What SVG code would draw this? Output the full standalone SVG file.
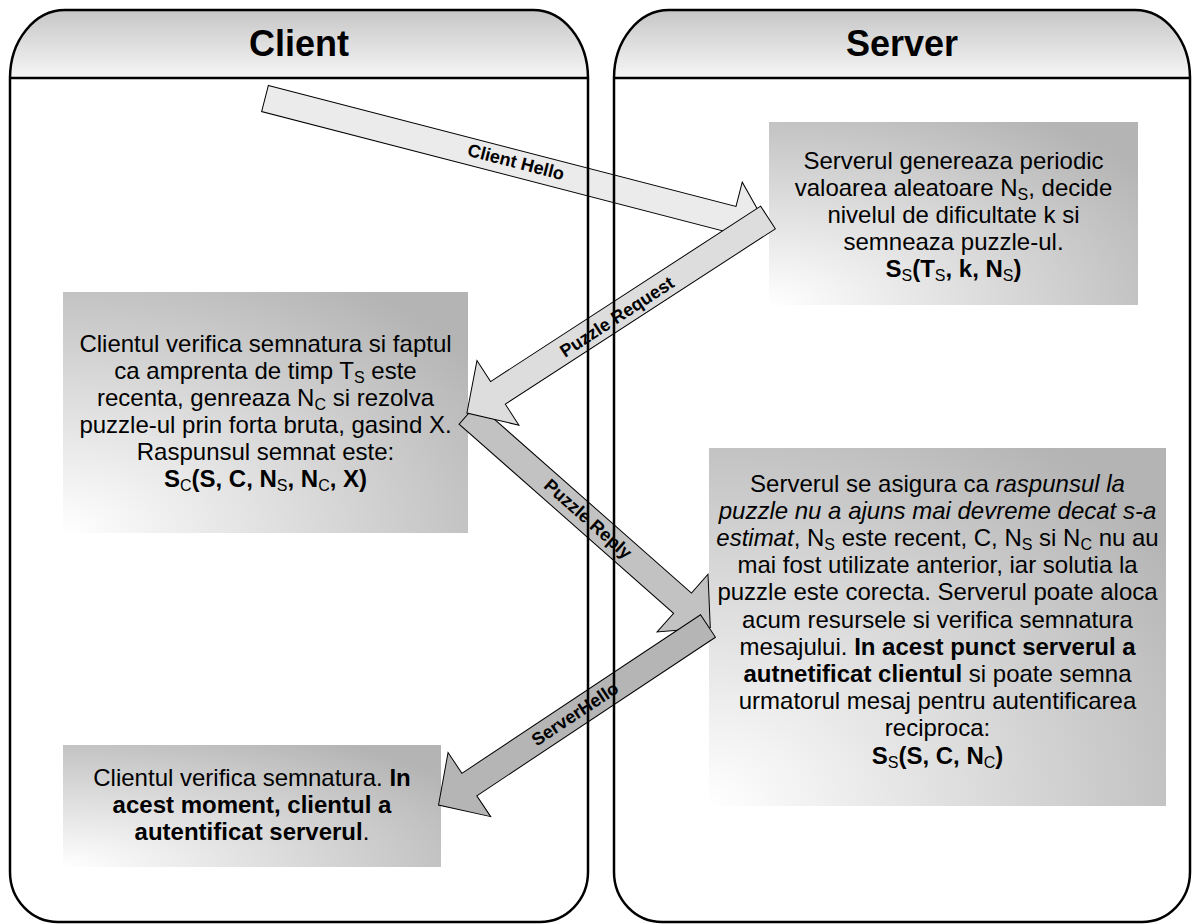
<svg xmlns="http://www.w3.org/2000/svg" width="1194" height="924" viewBox="0 0 1194 924">
<defs>
<linearGradient id="hdr" x1="0" y1="0" x2="0" y2="1"><stop offset="0" stop-color="#c6c6c6"/><stop offset="1" stop-color="#f6f6f6"/></linearGradient>
<radialGradient id="boxg" cx="0" cy="1" r="1.25" fx="0" fy="1"><stop offset="0" stop-color="#ffffff"/><stop offset="1" stop-color="#b4b4b4"/></radialGradient>
</defs>
<style>
text{font-family:"Liberation Sans",Arial,sans-serif;fill:#000}
.t{font-size:24px;text-anchor:middle}
.h{font-size:36px;font-weight:bold;text-anchor:middle}
.lbl{font-size:18px;font-weight:bold;text-anchor:middle}
.b{font-weight:bold}
.i{font-style:italic}
.s{font-size:16px;font-weight:normal}
.box{fill:url(#boxg)}
.arrow{stroke:#000;stroke-width:1;stroke-linejoin:miter}
.lane{fill:#fff}
.hdr{fill:url(#hdr)}
.border{fill:none;stroke:#000;stroke-width:2.5}
</style>

<g id="lane-client">
<path class="lane" d="M10,78 A55,68 0 0 1 65,10 H533 A55,68 0 0 1 588,78 V872 A48,50 0 0 1 540,922 H58 A48,50 0 0 1 10,872 Z"/>
<path class="hdr" d="M10,78 A55,68 0 0 1 65,10 H533 A55,68 0 0 1 588,78 Z"/>
<text class="h" x="299" y="56">Client</text>
</g>
<g id="lane-server">
<path class="lane" d="M614,78 A55,68 0 0 1 669,10 H1135 A55,68 0 0 1 1190,78 V872 A48,50 0 0 1 1142,922 H662 A48,50 0 0 1 614,872 Z"/>
<path class="hdr" d="M614,78 A55,68 0 0 1 669,10 H1135 A55,68 0 0 1 1190,78 Z"/>
<text class="h" x="902" y="56">Server</text>
</g>

<g id="server-generate">
<rect class="box" x="769" y="122" width="369" height="183"/>
<text class="t" x="953.5" y="168.5">Serverul genereaza periodic</text>
<text class="t" x="953.5" y="195.5">valoarea aleatoare N<tspan class="s" dy="4">S</tspan><tspan dy="-4">, decide</tspan></text>
<text class="t" x="953.5" y="222.5">nivelul de dificultate k si</text>
<text class="t" x="953.5" y="249.5">semneaza puzzle-ul.</text>
<text class="t b" x="953.5" y="276.5">S<tspan class="s" dy="4">S</tspan><tspan dy="-4">(T</tspan><tspan class="s" dy="4">S</tspan><tspan dy="-4">, k, N</tspan><tspan class="s" dy="4">S</tspan><tspan dy="-4">)</tspan></text>
</g>

<g id="client-solve">
<rect class="box" x="63" y="292" width="405" height="241"/>
<text class="t" x="265.5" y="352">Clientul verifica semnatura si faptul</text>
<text class="t" x="265.5" y="379">ca amprenta de timp T<tspan class="s" dy="4">S</tspan><tspan dy="-4"> este</tspan></text>
<text class="t" x="265.5" y="406">recenta, genreaza N<tspan class="s" dy="4">C</tspan><tspan dy="-4"> si rezolva</tspan></text>
<text class="t" x="265.5" y="433">puzzle-ul prin forta bruta, gasind X.</text>
<text class="t" x="265.5" y="460">Raspunsul semnat este:</text>
<text class="t b" x="265.5" y="487">S<tspan class="s" dy="4">C</tspan><tspan dy="-4">(S, C, N</tspan><tspan class="s" dy="4">S</tspan><tspan dy="-4">, N</tspan><tspan class="s" dy="4">C</tspan><tspan dy="-4">, X)</tspan></text>
</g>

<g id="server-verify">
<rect class="box" x="709" y="448" width="457" height="358"/>
<text class="t" x="937.5" y="491.5">Serverul se asigura ca <tspan class="i">raspunsul la</tspan></text>
<text class="t i" x="937.5" y="518.7">puzzle nu a ajuns mai devreme decat s-a</text>
<text class="t" x="937.5" y="545.9"><tspan class="i">estimat</tspan>, N<tspan class="s" dy="4">S</tspan><tspan dy="-4"> este recent, C, N</tspan><tspan class="s" dy="4">S</tspan><tspan dy="-4"> si N</tspan><tspan class="s" dy="4">C</tspan><tspan dy="-4"> nu au</tspan></text>
<text class="t" x="937.5" y="573.1">mai fost utilizate anterior, iar solutia la</text>
<text class="t" x="937.5" y="600.3">puzzle este corecta. Serverul poate aloca</text>
<text class="t" x="937.5" y="627.5">acum resursele si verifica semnatura</text>
<text class="t" x="937.5" y="654.7">mesajului. <tspan class="b">In acest punct serverul a</tspan></text>
<text class="t" x="937.5" y="681.9"><tspan class="b">autnetificat clientul</tspan> si poate semna</text>
<text class="t" x="937.5" y="709.1">urmatorul mesaj pentru autentificarea</text>
<text class="t" x="937.5" y="736.3">reciproca:</text>
<text class="t b" x="937.5" y="763.5">S<tspan class="s" dy="4">S</tspan><tspan dy="-4">(S, C, N</tspan><tspan class="s" dy="4">C</tspan><tspan dy="-4">)</tspan></text>
</g>

<g id="client-done">
<rect class="box" x="63" y="745" width="378" height="122"/>
<text class="t" x="252" y="786">Clientul verifica semnatura. <tspan class="b">In</tspan></text>
<text class="t b" x="252" y="813">acest moment, clientul a</text>
<text class="t" x="252" y="840"><tspan class="b">autentificat serverul</tspan>.</text>
</g>

<g id="connectors">
<g id="client-hello">
<polygon class="arrow" fill="#ebebeb" transform="translate(265,98.5) rotate(14.5)" points="0,-13.5 483,-13.5 483,-38.5 520,0 483,38.5 483,13.5 0,13.5"/>
<text class="lbl" transform="translate(516,162) rotate(14.5)" x="0" y="6">Client Hello</text>
</g>
<g id="puzzle-reply">
<polygon class="arrow" fill="#c2c2c2" transform="translate(468,414) rotate(41.4)" points="0,-13.5 286,-13.5 286,-38.5 323,0 286,38.5 286,13.5 0,13.5"/>
<text class="lbl" transform="translate(588,519) rotate(41.4)" x="0" y="6">Puzzle Reply</text>
</g>
<g id="puzzle-request">
<polygon class="arrow" fill="#dddddd" transform="translate(768,217.5) rotate(147)" points="0,-13.5 322,-13.5 322,-38.5 359,0 322,38.5 322,13.5 0,13.5"/>
<text class="lbl" transform="translate(617,317) rotate(-33)" x="0" y="6">Puzzle Request</text>
</g>
<g id="server-hello">
<polygon class="arrow" fill="#b5b5b5" transform="translate(708,626) rotate(146.4)" points="0,-13.5 286.5,-13.5 286.5,-38.5 323.5,0 286.5,38.5 286.5,13.5 0,13.5"/>
<text class="lbl" transform="translate(575,714) rotate(-33.6)" x="0" y="6">ServerHello</text>
</g>
</g>

<g id="lane-borders">
<path class="border" d="M10,78 A55,68 0 0 1 65,10 H533 A55,68 0 0 1 588,78 V872 A48,50 0 0 1 540,922 H58 A48,50 0 0 1 10,872 Z"/>
<path class="border" d="M10,78 H588"/>
<path class="border" d="M614,78 A55,68 0 0 1 669,10 H1135 A55,68 0 0 1 1190,78 V872 A48,50 0 0 1 1142,922 H662 A48,50 0 0 1 614,872 Z"/>
<path class="border" d="M614,78 H1190"/>
</g>
</svg>
